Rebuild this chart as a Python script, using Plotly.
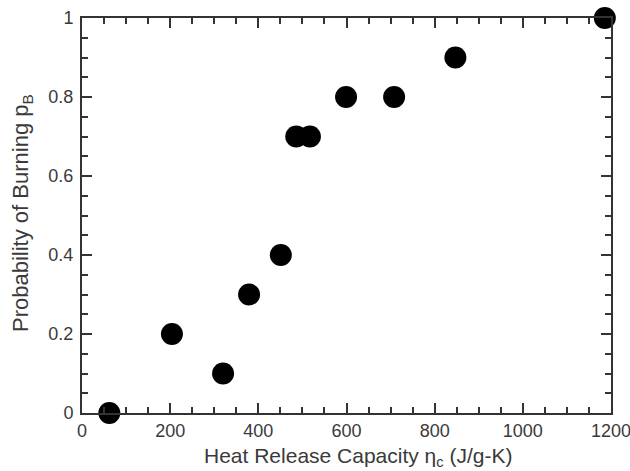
import plotly.graph_objects as go

heat_release_capacity = [62, 204, 320, 379, 451, 486, 517, 599, 708, 847, 1186]
probability_burning = [0.0, 0.2, 0.1, 0.3, 0.4, 0.7, 0.7, 0.8, 0.8, 0.9, 1.0]

x_ticks = [0, 200, 400, 600, 800, 1000, 1200]
y_ticks = [0, 0.2, 0.4, 0.6, 0.8, 1]
y_tick_text = ["0", "0.2", "0.4", "0.6", "0.8", "1"]

x_title = "Heat Release Capacity η<sub>c</sub> (J/g-K)"
y_title = "Probability of Burning p<sub>B</sub>"

axis_color = "#333333"
text_color = "#3a3a3a"
font_family = "Liberation Sans, Arial, sans-serif"

fig = go.Figure()
fig.add_trace(go.Scatter(
    x=heat_release_capacity, y=probability_burning, mode="markers",
    marker=dict(size=22, color="black"), cliponaxis=False, showlegend=False,
))

common = dict(
    showgrid=False, zeroline=False, showline=True, linecolor=axis_color, linewidth=2,
    mirror="ticks", ticks="inside", ticklen=10, tickwidth=2, tickcolor=axis_color,
    tickfont=dict(size=18, color=text_color, family=font_family), automargin=False,
)
fig.update_xaxes(
    range=[0, 1200], tickvals=x_ticks, ticklabeloverflow="allow",
    minor=dict(dtick=50, ticks="inside", ticklen=6, tickwidth=1.5, tickcolor=axis_color),
    **common,
)
fig.update_yaxes(
    range=[0, 1], tickvals=y_ticks, ticktext=y_tick_text, ticklabelstandoff=3,
    minor=dict(dtick=0.05, ticks="inside", ticklen=6, tickwidth=1.5, tickcolor=axis_color),
    **common,
)
fig.add_annotation(
    text=x_title, xref="paper", yref="paper", x=(358 - 82) / 529, y=-(457 - 413) / 395,
    xanchor="center", yanchor="middle", showarrow=False,
    font=dict(size=21, color=text_color, family=font_family),
)
fig.add_annotation(
    text=y_title, xref="paper", yref="paper", x=-(82 - 22) / 529, y=(413 - 213) / 395,
    xanchor="center", yanchor="middle", showarrow=False, textangle=-90,
    font=dict(size=22, color=text_color, family=font_family),
)
fig.update_layout(
    width=630, height=471, plot_bgcolor="white", paper_bgcolor="white",
    margin=dict(l=82, r=19, t=18, b=58, autoexpand=False),
)
fig.write_html("out.html")
